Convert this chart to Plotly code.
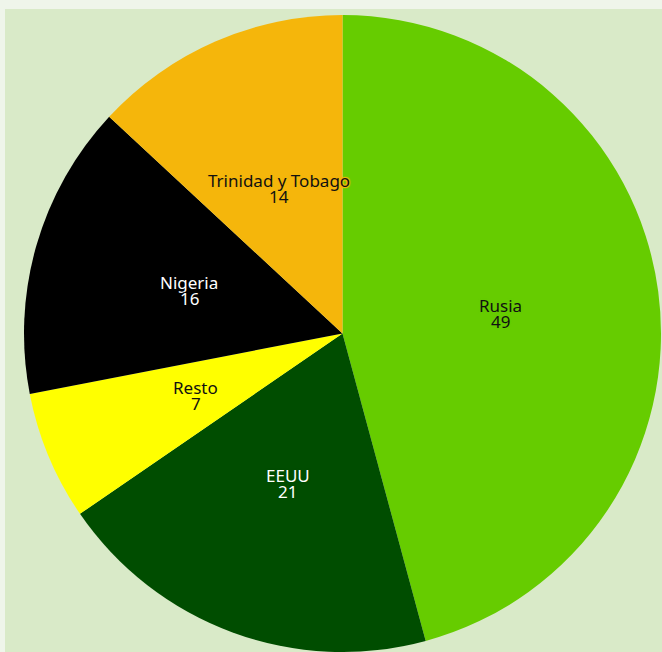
import math
import plotly.graph_objects as go

# Slices, drawn clockwise from 12 o'clock
labels = ["Rusia", "EEUU", "Resto", "Nigeria", "Trinidad y Tobago"]
values = [49, 21, 7, 16, 14]
colors = ["#66cc00", "#004d00", "#ffff00", "#000000", "#f5b60b"]
text_colors = ["#111111", "#ffffff", "#111111", "#ffffff", "#111111"]

W, H = 662, 652
dom_x = [23 / W, 1]
dom_y = [0, 1 - 15 / H]

fig = go.Figure(
    go.Pie(
        labels=labels,
        values=values,
        sort=False,
        direction="clockwise",
        rotation=0,
        marker=dict(colors=colors, line=dict(width=0)),
        textinfo="none",
        hoverinfo="label+value+percent",
        showlegend=False,
        domain=dict(x=dom_x, y=dom_y),
    )
)

# Slice labels sit halfway out along each slice's middle angle
px_w = (dom_x[1] - dom_x[0]) * W
px_h = (dom_y[1] - dom_y[0]) * H
radius = min(px_w, px_h) / 2
cx = (dom_x[0] + dom_x[1]) / 2
cy = (dom_y[0] + dom_y[1]) / 2
total = sum(values)
font_family = "Noto Sans, sans-serif"
font_size = 17

annotations = []
start = 0.0
for lab, val, col, tcol in zip(labels, values, colors, text_colors):
    mid = (start + val / 2) / total * 2 * math.pi
    start += val
    x = cx + 0.5 * radius * math.sin(mid) / W
    y = cy + 0.5 * radius * math.cos(mid) / H
    halo = f"1px 1px 1px {col}, -1px -1px 1px {col}, 1px -1px 1px {col}, -1px 1px 1px {col}"
    for txt, shift in ((lab, 7.5), (str(val), -8.5)):
        annotations.append(
            dict(
                x=x, y=y, xref="paper", yref="paper",
                text=txt, showarrow=False,
                xanchor="center", yanchor="middle", yshift=shift,
                font=dict(family=font_family, size=font_size, color=tcol, shadow=halo),
            )
        )

fig.update_layout(
    width=W,
    height=H,
    margin=dict(l=0, r=0, t=0, b=0),
    paper_bgcolor="#eff5ea",
    annotations=annotations,
    shapes=[
        dict(
            type="rect",
            xref="paper", yref="paper",
            x0=5 / W, x1=1, y0=0, y1=1 - 9 / H,
            fillcolor="#d9eac8",
            line=dict(width=0),
            layer="below",
        )
    ],
)

fig.write_html("out.html")
